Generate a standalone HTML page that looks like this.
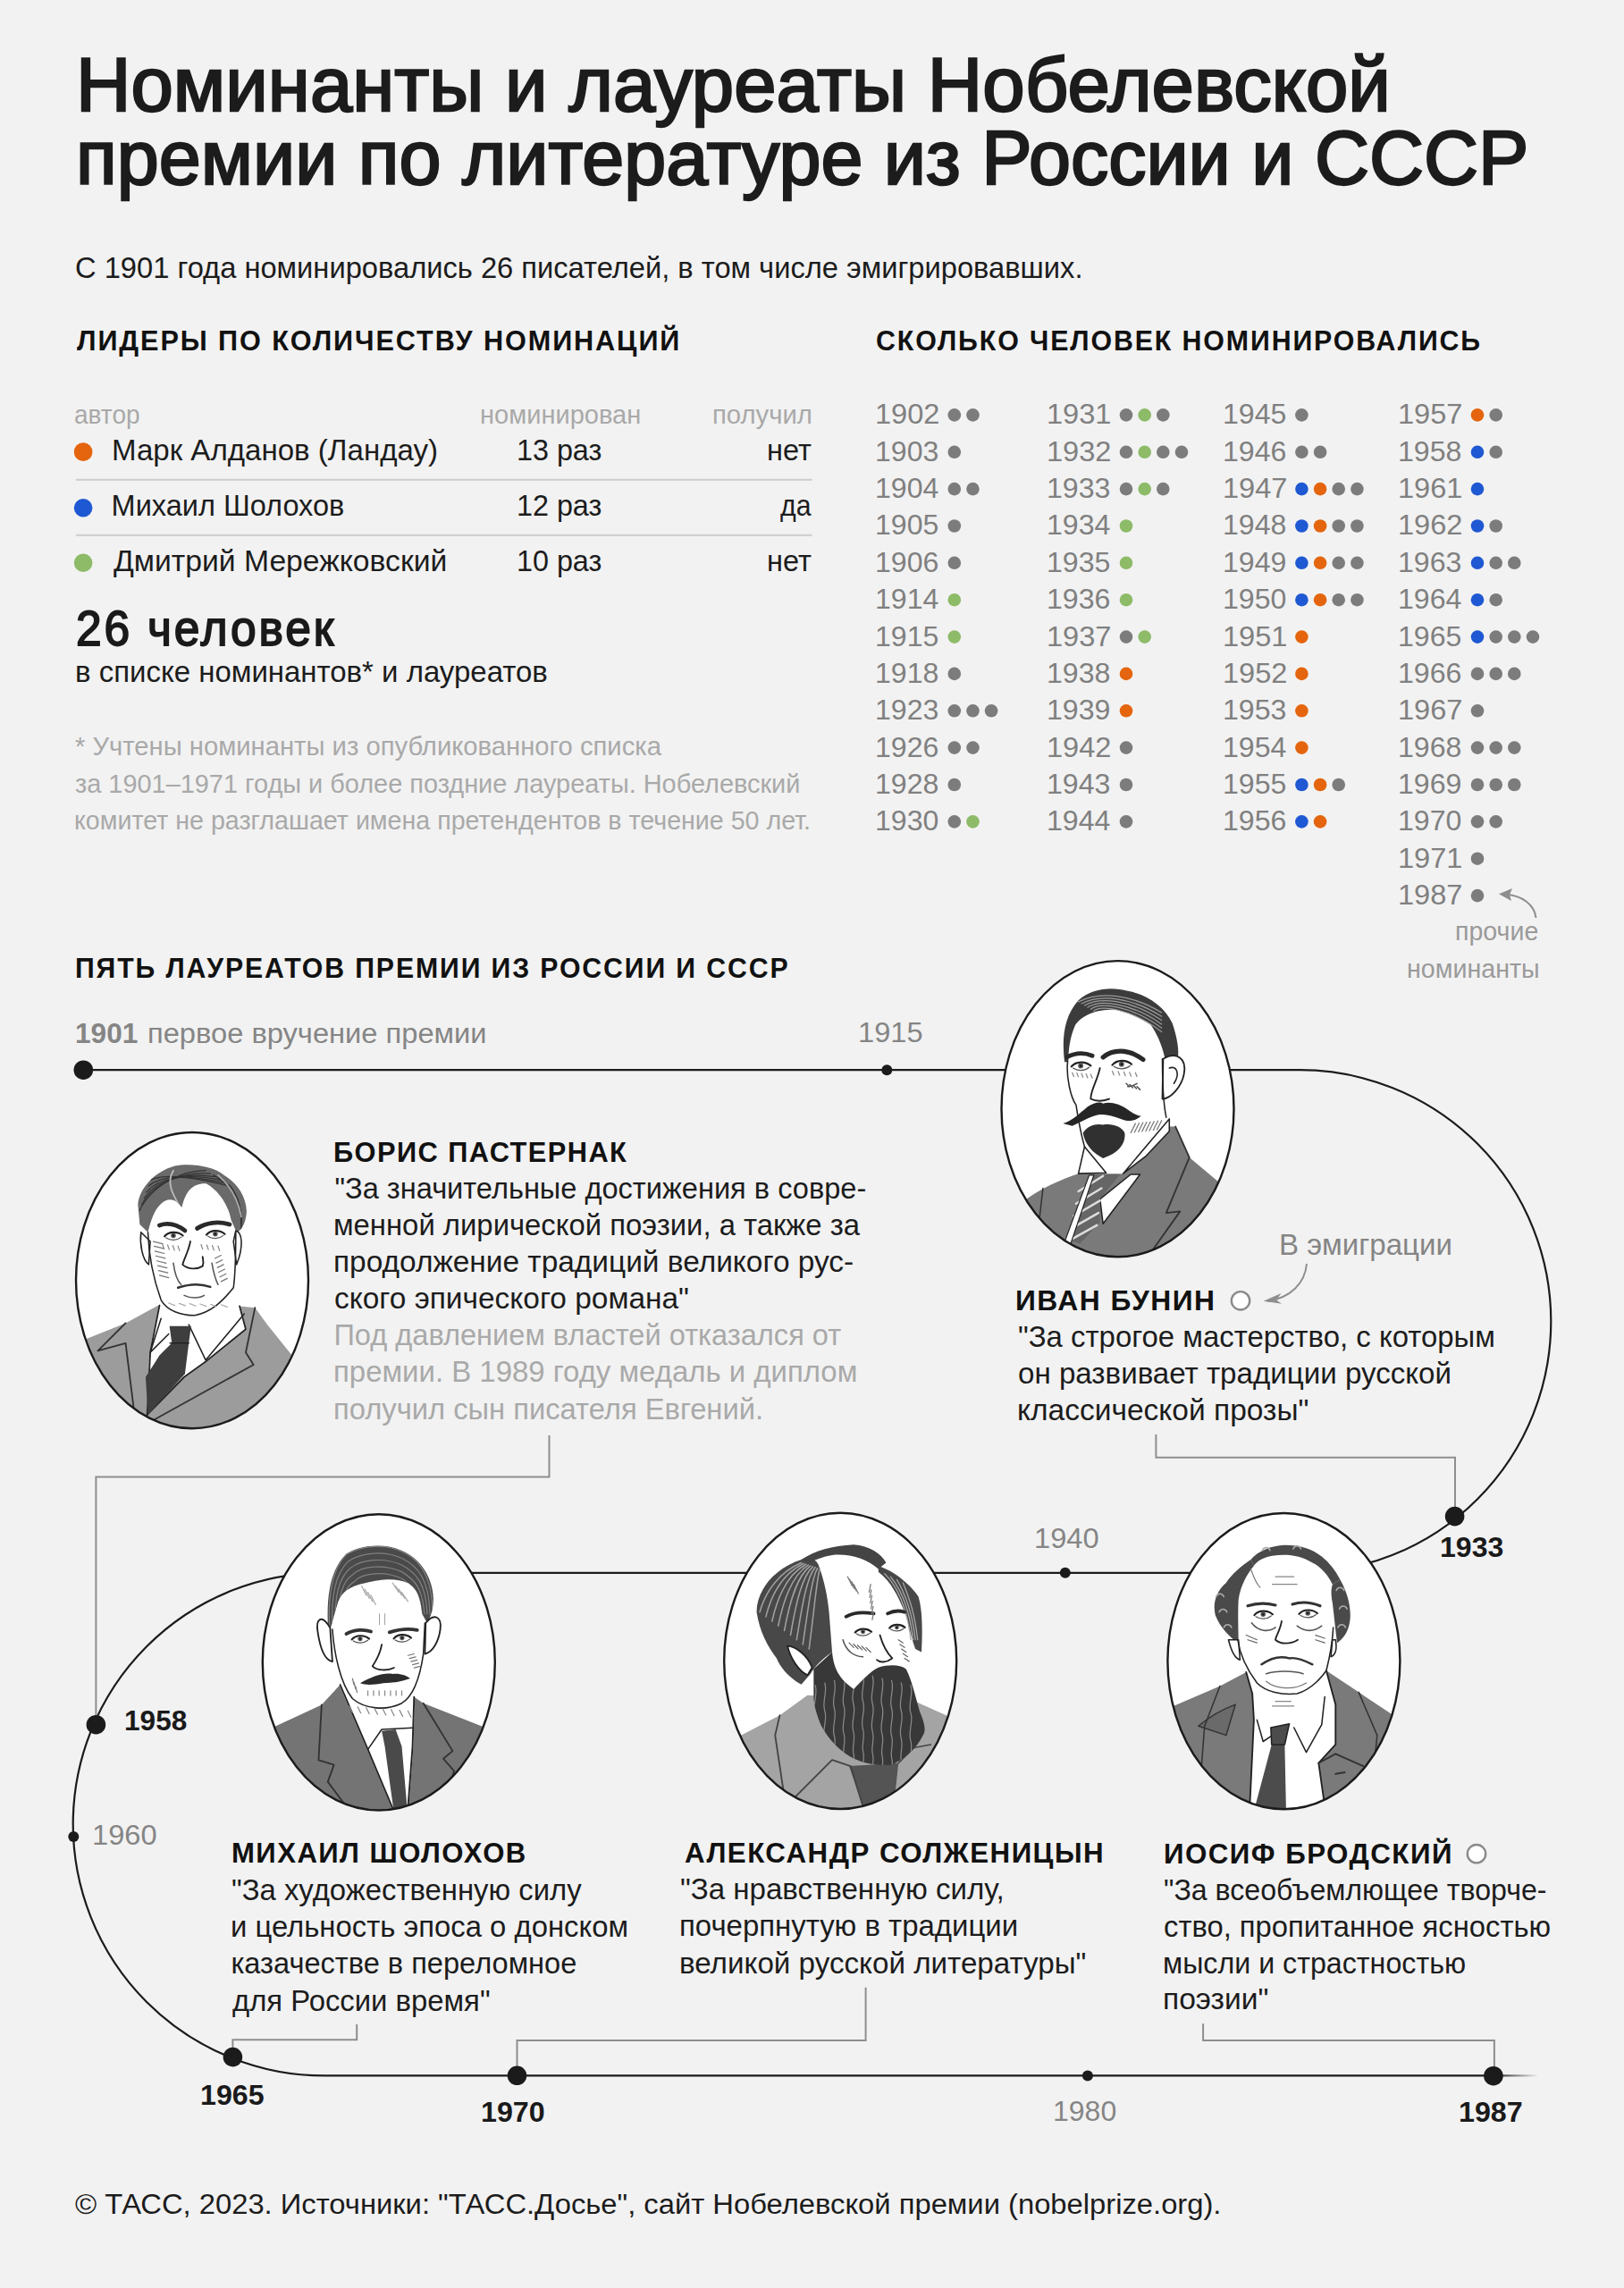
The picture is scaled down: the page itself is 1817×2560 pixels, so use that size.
<!DOCTYPE html>
<html lang="ru"><head><meta charset="utf-8"><title>Номинанты и лауреаты Нобелевской премии по литературе из России и СССР</title>
<style>
html,body{margin:0;padding:0;}
body{width:1817px;height:2560px;background:#f2f2f2;position:relative;overflow:hidden;font-family:"Liberation Sans",sans-serif;}
.t{position:absolute;white-space:pre;line-height:1;transform-origin:0 0;}
svg{position:absolute;left:0;top:0;}
</style></head><body>
<svg width="1817" height="2560" viewBox="0 0 1817 2560">
<path d="M93.3 1197.2 H1454 A281.3 281.3 0 0 1 1454 1759.8 H363 A281.3 281.3 0 0 0 363 2322.4 H1671" fill="none" stroke="#1b1b1b" stroke-width="2.2"/>
<defs><linearGradient id="fd" x1="0" x2="1"><stop offset="0" stop-color="#1b1b1b"/><stop offset="1" stop-color="#1b1b1b" stop-opacity="0"/></linearGradient></defs>
<rect x="1671" y="2321.3" width="50" height="2.2" fill="url(#fd)"/>
<path d="M614.5 1606 L614.5 1652.5 L107.4 1652.5 L107.4 1929.7" fill="none" stroke="#8e8e8e" stroke-width="2"/>
<path d="M1293.4 1605 L1293.4 1630.8 L1628 1630.8 L1628 1696.6" fill="none" stroke="#8e8e8e" stroke-width="2"/>
<path d="M399.2 2265 L399.2 2282.2 L260.4 2282.2 L260.4 2301.6" fill="none" stroke="#8e8e8e" stroke-width="2"/>
<path d="M968.6 2223.8 L968.6 2283 L578.5 2283 L578.5 2322.3" fill="none" stroke="#8e8e8e" stroke-width="2"/>
<path d="M1346.1 2264.2 L1346.1 2283 L1671.9 2283 L1671.9 2322.7" fill="none" stroke="#8e8e8e" stroke-width="2"/>
<circle cx="93.3" cy="1197.2" r="10.8" fill="#1b1b1b"/>
<circle cx="1627.6" cy="1696.6" r="10.8" fill="#1b1b1b"/>
<circle cx="107.4" cy="1929.7" r="10.8" fill="#1b1b1b"/>
<circle cx="260.4" cy="2301.6" r="10.8" fill="#1b1b1b"/>
<circle cx="578.5" cy="2322.3" r="10.8" fill="#1b1b1b"/>
<circle cx="1670.9" cy="2322.7" r="10.8" fill="#1b1b1b"/>
<circle cx="992.3" cy="1197.2" r="6" fill="#1b1b1b"/>
<circle cx="1191.8" cy="1759.8" r="6" fill="#1b1b1b"/>
<circle cx="82.3" cy="2055" r="6" fill="#1b1b1b"/>
<circle cx="1216.9" cy="2322.6" r="6" fill="#1b1b1b"/>
<circle cx="1388" cy="1455.3" r="10.2" fill="#fff" stroke="#8a8a8a" stroke-width="2.4"/>
<circle cx="1652" cy="2074.2" r="10.2" fill="#fff" stroke="#8a8a8a" stroke-width="2.4"/>
<path d="M1462 1414 C1460 1436 1444 1452 1418 1456" fill="none" stroke="#8e8e8e" stroke-width="2"/>
<path d="M1413.5 1455.8 L1433.5 1447 L1428 1454.5 L1434 1458.8 Z" fill="#8e8e8e"/>
<path d="M1718.5 1027 C1717 1012 1703 1002 1684 1000.5" fill="none" stroke="#8e8e8e" stroke-width="2"/>
<path d="M1677 1000.3 L1692 994 L1689 1001 L1691 1008 Z" fill="#8e8e8e"/>
<defs><clipPath id="cp0"><ellipse cx="1250.5" cy="1240.7" rx="130" ry="165.6"/></clipPath><clipPath id="cp1"><ellipse cx="215" cy="1432.6" rx="130" ry="165.6"/></clipPath><clipPath id="cp2"><ellipse cx="423.8" cy="1859.9" rx="130" ry="165.6"/></clipPath><clipPath id="cp3"><ellipse cx="940.2" cy="1858.4" rx="130" ry="165.6"/></clipPath><clipPath id="cp4"><ellipse cx="1436.4" cy="1858.6" rx="130" ry="165.6"/></clipPath></defs><ellipse cx="1250.5" cy="1240.7" rx="130" ry="165.6" fill="#fff"/>
<g clip-path="url(#cp0)"><g transform="translate(1110 1064) scale(0.172414)"><path d="M0 1650 L225 1610 C300 1550 450 1480 560 1445 L850 1445 L1000 1330 L1150 1140 L1190 1140 L1280 1340 L1470 1500 L1624 1560 L1624 2030 L0 2030 Z" fill="#7a7a7a"/><path d="M1190 1140 L1280 1340 L1130 1700 L1220 1690 L1000 2000" fill="none" stroke="#333" stroke-width="10.8" stroke-linecap="round" stroke-linejoin="round"/><path d="M330 1540 L300 1800" fill="none" stroke="#333" stroke-width="9.0" stroke-linecap="round" stroke-linejoin="round"/><path d="M700 1610 L900 1450 L960 1450 L720 1770 Z" fill="#fff" stroke="#222" stroke-width="9.0" stroke-linejoin="round"/><path d="M560 1445 L600 1270 L740 1440 Z" fill="#fff" stroke="#222" stroke-width="9.0" stroke-linejoin="round"/><path d="M850 1445 L1150 1090 L1150 1170 L1000 1330 Z" fill="#fff" stroke="#222" stroke-width="9.0" stroke-linejoin="round"/><path d="M640 1450 L830 1450 L700 1610 L700 1760 L570 1900 L505 1880 L600 1600 Z" fill="#666"/><path d="M560 1560 L720 1460" fill="none" stroke="#ddd" stroke-width="14.4" stroke-linecap="round" stroke-linejoin="round"/><path d="M545 1640 L710 1540" fill="none" stroke="#ddd" stroke-width="14.4" stroke-linecap="round" stroke-linejoin="round"/><path d="M530 1720 L700 1620" fill="none" stroke="#ddd" stroke-width="14.4" stroke-linecap="round" stroke-linejoin="round"/><path d="M515 1800 L690 1700" fill="none" stroke="#ddd" stroke-width="14.4" stroke-linecap="round" stroke-linejoin="round"/><path d="M500 1880 L680 1780" fill="none" stroke="#ddd" stroke-width="14.4" stroke-linecap="round" stroke-linejoin="round"/><path d="M470 1890 L630 1455 L660 1455 L510 1900 Z" fill="#fff" stroke="#222" stroke-width="7.2" stroke-linejoin="round"/><path d="M470 720 C450 560 470 420 560 320 C650 240 780 230 880 260 C1000 280 1120 360 1170 470 C1200 560 1215 640 1205 700 L1120 690 C1100 600 1060 520 1030 480 C960 430 880 400 800 380 C700 380 600 400 540 480 C505 560 495 640 495 720 Z" fill="#3c3c3c"/><path d="M560 330 C700 260 900 280 1100 400" fill="none" stroke="#9a9a9a" stroke-width="7.2" stroke-linecap="round" stroke-linejoin="round"/><path d="M580 342 C700 278 900 298 1100 425" fill="none" stroke="#9a9a9a" stroke-width="7.2" stroke-linecap="round" stroke-linejoin="round"/><path d="M600 354 C700 296 900 316 1100 450" fill="none" stroke="#9a9a9a" stroke-width="7.2" stroke-linecap="round" stroke-linejoin="round"/><path d="M620 366 C700 314 900 334 1100 475" fill="none" stroke="#9a9a9a" stroke-width="7.2" stroke-linecap="round" stroke-linejoin="round"/><path d="M640 378 C700 332 900 352 1100 500" fill="none" stroke="#9a9a9a" stroke-width="7.2" stroke-linecap="round" stroke-linejoin="round"/><path d="M660 390 C700 350 900 370 1100 525" fill="none" stroke="#9a9a9a" stroke-width="7.2" stroke-linecap="round" stroke-linejoin="round"/><path d="M1110 700 C1200 650 1265 700 1245 800 C1230 880 1160 960 1105 960 Z" fill="#fff" stroke="#222" stroke-width="10.8" stroke-linejoin="round"/><path d="M1150 760 C1200 740 1220 800 1180 860" fill="none" stroke="#222" stroke-width="9.0" stroke-linecap="round" stroke-linejoin="round"/><path d="M490 720 C480 820 510 950 545 1000 C560 1100 580 1200 600 1270" fill="none" stroke="#222" stroke-width="9.0" stroke-linecap="round" stroke-linejoin="round"/><path d="M1105 700 C1105 820 1105 960 1130 1080" fill="none" stroke="#222" stroke-width="9.0" stroke-linecap="round" stroke-linejoin="round"/><path d="M485 690 C540 660 600 660 650 680" fill="none" stroke="#2a2a2a" stroke-width="28" stroke-linecap="round" stroke-linejoin="round"/><path d="M720 690 C780 640 880 630 980 705" fill="none" stroke="#2a2a2a" stroke-width="30" stroke-linecap="round" stroke-linejoin="round"/><path d="M520 790 l10 25" fill="none" stroke="#888" stroke-width="7.2" stroke-linecap="round" stroke-linejoin="round"/><path d="M550 792 l10 25" fill="none" stroke="#888" stroke-width="7.2" stroke-linecap="round" stroke-linejoin="round"/><path d="M580 795 l10 25" fill="none" stroke="#888" stroke-width="7.2" stroke-linecap="round" stroke-linejoin="round"/><path d="M610 798 l10 25" fill="none" stroke="#888" stroke-width="7.2" stroke-linecap="round" stroke-linejoin="round"/><path d="M640 800 l10 25" fill="none" stroke="#888" stroke-width="7.2" stroke-linecap="round" stroke-linejoin="round"/><path d="M780 780 l10 25" fill="none" stroke="#888" stroke-width="7.2" stroke-linecap="round" stroke-linejoin="round"/><path d="M818 782 l10 25" fill="none" stroke="#888" stroke-width="7.2" stroke-linecap="round" stroke-linejoin="round"/><path d="M855 785 l10 25" fill="none" stroke="#888" stroke-width="7.2" stroke-linecap="round" stroke-linejoin="round"/><path d="M892 788 l10 25" fill="none" stroke="#888" stroke-width="7.2" stroke-linecap="round" stroke-linejoin="round"/><path d="M930 790 l10 25" fill="none" stroke="#888" stroke-width="7.2" stroke-linecap="round" stroke-linejoin="round"/><path d="M870 860 l20 20" fill="none" stroke="#555" stroke-width="9.0" stroke-linecap="round" stroke-linejoin="round"/><path d="M893 867 l20 20" fill="none" stroke="#555" stroke-width="9.0" stroke-linecap="round" stroke-linejoin="round"/><path d="M917 873 l20 20" fill="none" stroke="#555" stroke-width="9.0" stroke-linecap="round" stroke-linejoin="round"/><path d="M940 880 l20 20" fill="none" stroke="#555" stroke-width="9.0" stroke-linecap="round" stroke-linejoin="round"/><path d="M930 1120 l-30 60" fill="none" stroke="#777" stroke-width="7.2" stroke-linecap="round" stroke-linejoin="round"/><path d="M954 1117 l-30 60" fill="none" stroke="#777" stroke-width="7.2" stroke-linecap="round" stroke-linejoin="round"/><path d="M979 1114 l-30 60" fill="none" stroke="#777" stroke-width="7.2" stroke-linecap="round" stroke-linejoin="round"/><path d="M1003 1111 l-30 60" fill="none" stroke="#777" stroke-width="7.2" stroke-linecap="round" stroke-linejoin="round"/><path d="M1027 1109 l-30 60" fill="none" stroke="#777" stroke-width="7.2" stroke-linecap="round" stroke-linejoin="round"/><path d="M1051 1106 l-30 60" fill="none" stroke="#777" stroke-width="7.2" stroke-linecap="round" stroke-linejoin="round"/><path d="M1076 1103 l-30 60" fill="none" stroke="#777" stroke-width="7.2" stroke-linecap="round" stroke-linejoin="round"/><path d="M1100 1100 l-30 60" fill="none" stroke="#777" stroke-width="7.2" stroke-linecap="round" stroke-linejoin="round"/><path d="M515.0 750.0 C545.0 715.0 605.0 715.0 640.0 745" fill="none" stroke="#222" stroke-width="12.6" stroke-linecap="round" stroke-linejoin="round"/><path d="M525.0 760.0 C555.0 780.0 600.0 780.0 630.0 755.0" fill="none" stroke="#555" stroke-width="7.2" stroke-linecap="round" stroke-linejoin="round"/><circle cx="575" cy="745" r="17.0" fill="#555"/><circle cx="575" cy="745" r="7.0" fill="#111"/><path d="M780.0 740.0 C810.0 705.0 870.0 705.0 905.0 735" fill="none" stroke="#222" stroke-width="12.6" stroke-linecap="round" stroke-linejoin="round"/><path d="M790.0 750.0 C820.0 770.0 865.0 770.0 895.0 745.0" fill="none" stroke="#555" stroke-width="7.2" stroke-linecap="round" stroke-linejoin="round"/><circle cx="840" cy="735" r="17.0" fill="#555"/><circle cx="840" cy="735" r="7.0" fill="#111"/><path d="M700 760 C680 850 640 900 640 960 C680 980 720 975 760 960" fill="none" stroke="#222" stroke-width="10.8" stroke-linecap="round" stroke-linejoin="round"/><path d="M880 880 C910 880 940 860 940 860" fill="none" stroke="#555" stroke-width="9.0" stroke-linecap="round" stroke-linejoin="round"/><path d="M460 1120 C520 1100 560 1060 620 1010 C660 985 700 975 720 990 C760 975 830 990 880 1030 C920 1060 950 1070 968 1070 C930 1105 880 1110 840 1092 C790 1072 740 1062 700 1062 C640 1072 580 1110 520 1135 Z" fill="#262626"/><path d="M590 1180 C620 1130 680 1118 720 1128 C780 1118 840 1140 860 1180 C870 1240 830 1310 720 1345 C650 1310 600 1250 590 1180 Z" fill="#303030"/></g></g>
<ellipse cx="1250.5" cy="1240.7" rx="130" ry="165.6" fill="none" stroke="#1b1b1b" stroke-width="2.4"/>
<ellipse cx="215" cy="1432.6" rx="130" ry="165.6" fill="#fff"/>
<g clip-path="url(#cp1)"><g transform="translate(75 1258) scale(0.172414)"><path d="M0 1450 L130 1390 L380 1290 L600 1170 L620 1180 L1120 1180 L1220 1190 L1300 1300 L1460 1500 L1624 1560 L1624 2030 L0 2030 Z" fill="#9c9c9c"/><path d="M600 1175 L1120 1180 L1160 1330 L900 1540 L760 1640 L520 1885 L540 1480 Z" fill="#fff" stroke="#fff" stroke-width="10"/><path d="M600 1175 L540 1480 L520 1885" fill="none" stroke="#222" stroke-width="10.8" stroke-linecap="round" stroke-linejoin="round"/><path d="M1120 1180 L1160 1330 L900 1540 L760 1640 L520 1885" fill="none" stroke="#222" stroke-width="10.8" stroke-linecap="round" stroke-linejoin="round"/><path d="M610 1260 L540 1480 L660 1360" fill="none" stroke="#222" stroke-width="9.0" stroke-linecap="round" stroke-linejoin="round"/><path d="M1150 1230 L900 1530 L790 1300" fill="none" stroke="#222" stroke-width="9.0" stroke-linecap="round" stroke-linejoin="round"/><path d="M665 1310 L805 1310 L790 1420 L765 1620 L525 1885 L510 1640 L600 1500 L680 1420 Z" fill="#3e3e3e"/><path d="M668 1420 L790 1420" fill="none" stroke="#222" stroke-width="9.0" stroke-linecap="round" stroke-linejoin="round"/><path d="M380 1290 L200 1470 L380 1420 L440 1900" fill="none" stroke="#333" stroke-width="10.8" stroke-linecap="round" stroke-linejoin="round"/><path d="M1220 1190 L1160 1480 L1210 1560 L560 1920" fill="none" stroke="#333" stroke-width="10.8" stroke-linecap="round" stroke-linejoin="round"/><clipPath id="pclip"><path d="M460 520 C470 420 560 310 700 270 C800 250 950 270 1020 330 C1100 380 1160 460 1165 560 C1165 640 1125 700 1100 700 L1065 620 C1045 520 985 430 905 385 C820 380 770 430 745 540 C705 480 655 470 605 520 C565 560 545 620 525 700 L472 650 Z"/></clipPath><path d="M460 520 C470 420 560 310 700 270 C800 250 950 270 1020 330 C1100 380 1160 460 1165 560 C1165 640 1125 700 1100 700 L1065 620 C1045 520 985 430 905 385 C820 380 770 430 745 540 C705 480 655 470 605 520 C565 560 545 620 525 700 L472 650 Z" fill="#6a6a6a"/><g clip-path="url(#pclip)"><path d="M470 560 C560 380 760 300 900 300" fill="none" stroke="#333" stroke-width="7.2" stroke-linecap="round" stroke-linejoin="round"/><path d="M485 520 C570 370 760 305 930 320" fill="none" stroke="#333" stroke-width="7.2" stroke-linecap="round" stroke-linejoin="round"/><path d="M500 480 C580 360 760 310 960 340" fill="none" stroke="#333" stroke-width="7.2" stroke-linecap="round" stroke-linejoin="round"/><path d="M515 440 C590 350 760 315 990 360" fill="none" stroke="#333" stroke-width="7.2" stroke-linecap="round" stroke-linejoin="round"/><path d="M530 400 C600 340 760 320 1020 380" fill="none" stroke="#333" stroke-width="7.2" stroke-linecap="round" stroke-linejoin="round"/><path d="M545 360 C610 330 760 325 1050 400" fill="none" stroke="#333" stroke-width="7.2" stroke-linecap="round" stroke-linejoin="round"/><path d="M950 330 C1050 380 1120 480 1130 600" fill="none" stroke="#333" stroke-width="7.2" stroke-linecap="round" stroke-linejoin="round"/><path d="M975 345 C1065 400 1125 500 1130 620" fill="none" stroke="#333" stroke-width="7.2" stroke-linecap="round" stroke-linejoin="round"/><path d="M1000 360 C1080 420 1130 520 1130 640" fill="none" stroke="#333" stroke-width="7.2" stroke-linecap="round" stroke-linejoin="round"/><path d="M1025 375 C1095 440 1135 540 1130 660" fill="none" stroke="#333" stroke-width="7.2" stroke-linecap="round" stroke-linejoin="round"/><path d="M1050 390 C1110 460 1140 560 1130 680" fill="none" stroke="#333" stroke-width="7.2" stroke-linecap="round" stroke-linejoin="round"/><path d="M690 300 C640 380 690 460 730 530" fill="none" stroke="#bbb" stroke-width="10.8" stroke-linecap="round" stroke-linejoin="round"/><path d="M980 330 C1060 400 1110 480 1130 600" fill="none" stroke="#aaa" stroke-width="10.8" stroke-linecap="round" stroke-linejoin="round"/></g><path d="M480 700 C470 780 490 880 530 910 L540 760 Z" fill="#fff" stroke="#222" stroke-width="9.0" stroke-linejoin="round"/><path d="M1095 690 C1140 700 1145 800 1100 910 L1080 760 Z" fill="#fff" stroke="#222" stroke-width="9.0" stroke-linejoin="round"/><path d="M525 700 C530 850 560 1000 610 1140 C650 1210 740 1240 830 1240 C930 1220 1000 1160 1080 1060 C1095 950 1095 800 1095 700" fill="none" stroke="#222" stroke-width="9.0" stroke-linecap="round" stroke-linejoin="round"/><path d="M600 655 C660 635 720 655 765 690" fill="none" stroke="#2a2a2a" stroke-width="28" stroke-linecap="round" stroke-linejoin="round"/><path d="M845 675 C900 640 980 625 1055 650" fill="none" stroke="#2a2a2a" stroke-width="28" stroke-linecap="round" stroke-linejoin="round"/><path d="M560 760 l60 15" fill="none" stroke="#777" stroke-width="7.2" stroke-linecap="round" stroke-linejoin="round"/><path d="M566 791 l60 15" fill="none" stroke="#777" stroke-width="7.2" stroke-linecap="round" stroke-linejoin="round"/><path d="M571 823 l60 15" fill="none" stroke="#777" stroke-width="7.2" stroke-linecap="round" stroke-linejoin="round"/><path d="M577 854 l60 15" fill="none" stroke="#777" stroke-width="7.2" stroke-linecap="round" stroke-linejoin="round"/><path d="M583 886 l60 15" fill="none" stroke="#777" stroke-width="7.2" stroke-linecap="round" stroke-linejoin="round"/><path d="M589 917 l60 15" fill="none" stroke="#777" stroke-width="7.2" stroke-linecap="round" stroke-linejoin="round"/><path d="M594 949 l60 15" fill="none" stroke="#777" stroke-width="7.2" stroke-linecap="round" stroke-linejoin="round"/><path d="M600 980 l60 15" fill="none" stroke="#777" stroke-width="7.2" stroke-linecap="round" stroke-linejoin="round"/><path d="M620 780 l10 30" fill="none" stroke="#888" stroke-width="7.2" stroke-linecap="round" stroke-linejoin="round"/><path d="M653 783 l10 30" fill="none" stroke="#888" stroke-width="7.2" stroke-linecap="round" stroke-linejoin="round"/><path d="M687 787 l10 30" fill="none" stroke="#888" stroke-width="7.2" stroke-linecap="round" stroke-linejoin="round"/><path d="M720 790 l10 30" fill="none" stroke="#888" stroke-width="7.2" stroke-linecap="round" stroke-linejoin="round"/><path d="M870 780 l10 30" fill="none" stroke="#888" stroke-width="7.2" stroke-linecap="round" stroke-linejoin="round"/><path d="M907 783 l10 30" fill="none" stroke="#888" stroke-width="7.2" stroke-linecap="round" stroke-linejoin="round"/><path d="M943 787 l10 30" fill="none" stroke="#888" stroke-width="7.2" stroke-linecap="round" stroke-linejoin="round"/><path d="M980 790 l10 30" fill="none" stroke="#888" stroke-width="7.2" stroke-linecap="round" stroke-linejoin="round"/><path d="M1000 850 l-40 20" fill="none" stroke="#777" stroke-width="7.2" stroke-linecap="round" stroke-linejoin="round"/><path d="M1008 880 l-40 20" fill="none" stroke="#777" stroke-width="7.2" stroke-linecap="round" stroke-linejoin="round"/><path d="M1016 910 l-40 20" fill="none" stroke="#777" stroke-width="7.2" stroke-linecap="round" stroke-linejoin="round"/><path d="M1024 940 l-40 20" fill="none" stroke="#777" stroke-width="7.2" stroke-linecap="round" stroke-linejoin="round"/><path d="M1032 970 l-40 20" fill="none" stroke="#777" stroke-width="7.2" stroke-linecap="round" stroke-linejoin="round"/><path d="M1040 1000 l-40 20" fill="none" stroke="#777" stroke-width="7.2" stroke-linecap="round" stroke-linejoin="round"/><path d="M690 900 C700 980 720 1020 740 1040" fill="none" stroke="#555" stroke-width="9.0" stroke-linecap="round" stroke-linejoin="round"/><path d="M940 900 C950 960 960 1000 980 1040" fill="none" stroke="#555" stroke-width="9.0" stroke-linecap="round" stroke-linejoin="round"/><path d="M660 1160 l40 15" fill="none" stroke="#aaa" stroke-width="7.2" stroke-linecap="round" stroke-linejoin="round"/><path d="M728 1162 l40 15" fill="none" stroke="#aaa" stroke-width="7.2" stroke-linecap="round" stroke-linejoin="round"/><path d="M796 1164 l40 15" fill="none" stroke="#aaa" stroke-width="7.2" stroke-linecap="round" stroke-linejoin="round"/><path d="M864 1166 l40 15" fill="none" stroke="#aaa" stroke-width="7.2" stroke-linecap="round" stroke-linejoin="round"/><path d="M932 1168 l40 15" fill="none" stroke="#aaa" stroke-width="7.2" stroke-linecap="round" stroke-linejoin="round"/><path d="M1000 1170 l40 15" fill="none" stroke="#aaa" stroke-width="7.2" stroke-linecap="round" stroke-linejoin="round"/><path d="M633.0 726.75 C661.5 693.5 718.5 693.5 751.75 722" fill="none" stroke="#222" stroke-width="12.6" stroke-linecap="round" stroke-linejoin="round"/><path d="M642.5 736.25 C671.0 755.25 713.75 755.25 742.25 731.5" fill="none" stroke="#555" stroke-width="7.2" stroke-linecap="round" stroke-linejoin="round"/><circle cx="690" cy="722" r="16.15" fill="#555"/><circle cx="690" cy="722" r="6.6499999999999995" fill="#111"/><path d="M905.0 716.75 C933.5 683.5 990.5 683.5 1023.75 712" fill="none" stroke="#222" stroke-width="12.6" stroke-linecap="round" stroke-linejoin="round"/><path d="M914.5 726.25 C943.0 745.25 985.75 745.25 1014.25 721.5" fill="none" stroke="#555" stroke-width="7.2" stroke-linecap="round" stroke-linejoin="round"/><circle cx="962" cy="712" r="16.15" fill="#555"/><circle cx="962" cy="712" r="6.6499999999999995" fill="#111"/><path d="M800 760 C790 820 760 870 750 910 C780 940 840 945 880 920 C890 890 880 870 880 860" fill="none" stroke="#222" stroke-width="10.8" stroke-linecap="round" stroke-linejoin="round"/><path d="M720 1060 C780 1040 860 1030 930 1055" fill="none" stroke="#333" stroke-width="14.4" stroke-linecap="round" stroke-linejoin="round"/><path d="M760 1110 C800 1130 860 1130 890 1110" fill="none" stroke="#555" stroke-width="9.0" stroke-linecap="round" stroke-linejoin="round"/></g></g>
<ellipse cx="215" cy="1432.6" rx="130" ry="165.6" fill="none" stroke="#1b1b1b" stroke-width="2.4"/>
<ellipse cx="423.8" cy="1859.9" rx="130" ry="165.6" fill="#fff"/>
<g clip-path="url(#cp2)"><g transform="translate(284 1685) scale(0.172414)"><path d="M0 1460 L140 1430 L440 1290 L560 1160 L1040 1240 L1100 1280 L1480 1430 L1624 1480 L1624 2030 L0 2030 Z" fill="#747474"/><path d="M560 1160 L1040 1240 L1030 1560 L1000 1960 L900 1960 L740 1580 Z" fill="#fff" stroke="#fff" stroke-width="10"/><path d="M560 1160 L740 1580 L900 1960" fill="none" stroke="#222" stroke-width="10.8" stroke-linecap="round" stroke-linejoin="round"/><path d="M1040 1240 L1030 1560 L1000 1960" fill="none" stroke="#222" stroke-width="10.8" stroke-linecap="round" stroke-linejoin="round"/><path d="M830 1460 L920 1450 L960 1560 L995 1960 L905 1960 L850 1560 Z" fill="#4a4a4a"/><path d="M740 1580 L830 1450 L1030 1440" fill="none" stroke="#222" stroke-width="9.0" stroke-linecap="round" stroke-linejoin="round"/><path d="M440 1290 L420 1650 L520 1680 L480 1790 L600 1950" fill="none" stroke="#333" stroke-width="10.8" stroke-linecap="round" stroke-linejoin="round"/><path d="M1100 1280 L1290 1590 L1230 1640 L1300 1720 L1240 1900" fill="none" stroke="#333" stroke-width="10.8" stroke-linecap="round" stroke-linejoin="round"/><clipPath id="shclip"><path d="M482 800 C470 600 490 420 600 310 C700 250 850 240 960 290 C1080 340 1160 460 1165 600 C1165 680 1145 720 1125 760 L1092 700 C1082 600 1062 540 1002 500 C922 470 852 470 722 500 C622 520 562 560 542 640 C522 700 505 780 495 800 Z"/></clipPath><path d="M482 800 C470 600 490 420 600 310 C700 250 850 240 960 290 C1080 340 1160 460 1165 600 C1165 680 1145 720 1125 760 L1092 700 C1082 600 1062 540 1002 500 C922 470 852 470 722 500 C622 520 562 560 542 640 C522 700 505 780 495 800 Z" fill="#4a4a4a"/><g clip-path="url(#shclip)"><path d="M492 800 C480 600 500 420 600 315 C700 255 850 245 960 295 C1080 345 1160 460 1160 700" fill="none" stroke="#808080" stroke-width="7.2" stroke-linecap="round" stroke-linejoin="round"/><path d="M510 800 C502 600 522 446 613 359 C700 299 850 289 960 339 C1067 389 1138 482 1142 700" fill="none" stroke="#808080" stroke-width="7.2" stroke-linecap="round" stroke-linejoin="round"/><path d="M527 800 C524 600 544 473 626 403 C700 343 850 333 960 383 C1054 433 1116 504 1125 700" fill="none" stroke="#808080" stroke-width="7.2" stroke-linecap="round" stroke-linejoin="round"/><path d="M545 800 C546 600 566 499 640 447 C700 387 850 377 960 427 C1040 477 1094 526 1107 700" fill="none" stroke="#808080" stroke-width="7.2" stroke-linecap="round" stroke-linejoin="round"/><path d="M562 800 C568 600 588 526 653 491 C700 431 850 421 960 471 C1027 521 1072 548 1090 700" fill="none" stroke="#808080" stroke-width="7.2" stroke-linecap="round" stroke-linejoin="round"/></g><path d="M495 790 C440 700 400 730 415 820 C430 920 460 1000 510 1010 Z" fill="#fff" stroke="#222" stroke-width="10.8" stroke-linejoin="round"/><path d="M1115 760 C1170 690 1220 720 1210 800 C1200 880 1160 950 1110 960 Z" fill="#fff" stroke="#222" stroke-width="10.8" stroke-linejoin="round"/><path d="M510 800 C520 950 560 1150 640 1250 C720 1320 860 1330 960 1280 C1040 1230 1080 1100 1100 960 L1110 760" fill="none" stroke="#222" stroke-width="9.0" stroke-linecap="round" stroke-linejoin="round"/><path d="M600 830 C650 800 720 800 760 815" fill="none" stroke="#333" stroke-width="22" stroke-linecap="round" stroke-linejoin="round"/><path d="M880 820 C940 800 1010 795 1060 805" fill="none" stroke="#333" stroke-width="22" stroke-linecap="round" stroke-linejoin="round"/><path d="M700 520 l30 60" fill="none" stroke="#aaa" stroke-width="7.2" stroke-linecap="round" stroke-linejoin="round"/><path d="M720 540 l30 60" fill="none" stroke="#aaa" stroke-width="7.2" stroke-linecap="round" stroke-linejoin="round"/><path d="M740 560 l30 60" fill="none" stroke="#aaa" stroke-width="7.2" stroke-linecap="round" stroke-linejoin="round"/><path d="M760 580 l30 60" fill="none" stroke="#aaa" stroke-width="7.2" stroke-linecap="round" stroke-linejoin="round"/><path d="M900 500 l40 60" fill="none" stroke="#aaa" stroke-width="7.2" stroke-linecap="round" stroke-linejoin="round"/><path d="M920 520 l40 60" fill="none" stroke="#aaa" stroke-width="7.2" stroke-linecap="round" stroke-linejoin="round"/><path d="M940 540 l40 60" fill="none" stroke="#aaa" stroke-width="7.2" stroke-linecap="round" stroke-linejoin="round"/><path d="M960 560 l40 60" fill="none" stroke="#aaa" stroke-width="7.2" stroke-linecap="round" stroke-linejoin="round"/><path d="M815 700 l0 70" fill="none" stroke="#999" stroke-width="5.4" stroke-linecap="round" stroke-linejoin="round"/><path d="M850 700 l0 70" fill="none" stroke="#999" stroke-width="5.4" stroke-linecap="round" stroke-linejoin="round"/><path d="M1040 960 l-40 10" fill="none" stroke="#777" stroke-width="7.2" stroke-linecap="round" stroke-linejoin="round"/><path d="M1050 980 l-40 10" fill="none" stroke="#777" stroke-width="7.2" stroke-linecap="round" stroke-linejoin="round"/><path d="M1060 1000 l-40 10" fill="none" stroke="#777" stroke-width="7.2" stroke-linecap="round" stroke-linejoin="round"/><path d="M1070 1020 l-40 10" fill="none" stroke="#777" stroke-width="7.2" stroke-linecap="round" stroke-linejoin="round"/><path d="M1080 1040 l-40 10" fill="none" stroke="#777" stroke-width="7.2" stroke-linecap="round" stroke-linejoin="round"/><path d="M640 1120 l10 40" fill="none" stroke="#777" stroke-width="7.2" stroke-linecap="round" stroke-linejoin="round"/><path d="M650 1145 l10 40" fill="none" stroke="#777" stroke-width="7.2" stroke-linecap="round" stroke-linejoin="round"/><path d="M660 1170 l10 40" fill="none" stroke="#777" stroke-width="7.2" stroke-linecap="round" stroke-linejoin="round"/><path d="M740 1200 l0 30" fill="none" stroke="#888" stroke-width="7.2" stroke-linecap="round" stroke-linejoin="round"/><path d="M777 1200 l0 30" fill="none" stroke="#888" stroke-width="7.2" stroke-linecap="round" stroke-linejoin="round"/><path d="M813 1200 l0 30" fill="none" stroke="#888" stroke-width="7.2" stroke-linecap="round" stroke-linejoin="round"/><path d="M850 1200 l0 30" fill="none" stroke="#888" stroke-width="7.2" stroke-linecap="round" stroke-linejoin="round"/><path d="M887 1200 l0 30" fill="none" stroke="#888" stroke-width="7.2" stroke-linecap="round" stroke-linejoin="round"/><path d="M923 1200 l0 30" fill="none" stroke="#888" stroke-width="7.2" stroke-linecap="round" stroke-linejoin="round"/><path d="M960 1200 l0 30" fill="none" stroke="#888" stroke-width="7.2" stroke-linecap="round" stroke-linejoin="round"/><path d="M620 1300 l20 40" fill="none" stroke="#888" stroke-width="7.2" stroke-linecap="round" stroke-linejoin="round"/><path d="M674 1304 l20 40" fill="none" stroke="#888" stroke-width="7.2" stroke-linecap="round" stroke-linejoin="round"/><path d="M729 1309 l20 40" fill="none" stroke="#888" stroke-width="7.2" stroke-linecap="round" stroke-linejoin="round"/><path d="M783 1313 l20 40" fill="none" stroke="#888" stroke-width="7.2" stroke-linecap="round" stroke-linejoin="round"/><path d="M837 1317 l20 40" fill="none" stroke="#888" stroke-width="7.2" stroke-linecap="round" stroke-linejoin="round"/><path d="M891 1321 l20 40" fill="none" stroke="#888" stroke-width="7.2" stroke-linecap="round" stroke-linejoin="round"/><path d="M946 1326 l20 40" fill="none" stroke="#888" stroke-width="7.2" stroke-linecap="round" stroke-linejoin="round"/><path d="M1000 1330 l20 40" fill="none" stroke="#888" stroke-width="7.2" stroke-linecap="round" stroke-linejoin="round"/><path d="M636.0 866.5 C663.0 835.0 717.0 835.0 748.5 862" fill="none" stroke="#222" stroke-width="12.6" stroke-linecap="round" stroke-linejoin="round"/><path d="M645.0 875.5 C672.0 893.5 712.5 893.5 739.5 871.0" fill="none" stroke="#555" stroke-width="7.2" stroke-linecap="round" stroke-linejoin="round"/><circle cx="690" cy="862" r="15.3" fill="#555"/><circle cx="690" cy="862" r="6.3" fill="#111"/><path d="M908.0 860.5 C935.0 829.0 989.0 829.0 1020.5 856" fill="none" stroke="#222" stroke-width="12.6" stroke-linecap="round" stroke-linejoin="round"/><path d="M917.0 869.5 C944.0 887.5 984.5 887.5 1011.5 865.0" fill="none" stroke="#555" stroke-width="7.2" stroke-linecap="round" stroke-linejoin="round"/><circle cx="962" cy="856" r="15.3" fill="#555"/><circle cx="962" cy="856" r="6.3" fill="#111"/><path d="M830 900 C820 960 790 1010 770 1040 C800 1070 870 1070 910 1050" fill="none" stroke="#222" stroke-width="10.8" stroke-linecap="round" stroke-linejoin="round"/><path d="M690 1150 C760 1110 840 1080 900 1090 C950 1085 990 1100 1015 1120 C960 1140 900 1150 840 1150 C780 1160 730 1165 690 1150 Z" fill="#2c2c2c"/></g></g>
<ellipse cx="423.8" cy="1859.9" rx="130" ry="165.6" fill="none" stroke="#1b1b1b" stroke-width="2.4"/>
<ellipse cx="940.2" cy="1858.4" rx="130" ry="165.6" fill="#fff"/>
<g clip-path="url(#cp3)"><g transform="translate(800 1683) scale(0.172414)"><path d="M0 1540 L170 1500 L420 1370 L600 1240 L1300 1280 L1500 1370 L1624 1400 L1624 2030 L0 2030 Z" fill="#a4a4a4"/><path d="M870 1700 L1190 1680 L1160 1960 L960 1960 Z" fill="#545454"/><path d="M420 1370 L390 1500 L450 1900" fill="none" stroke="#444" stroke-width="10.8" stroke-linecap="round" stroke-linejoin="round"/><path d="M520 1900 L760 1660 L880 1700 L960 1960" fill="none" stroke="#444" stroke-width="10.8" stroke-linecap="round" stroke-linejoin="round"/><path d="M1190 1680 L1290 1580 L1400 1560" fill="none" stroke="#444" stroke-width="9.0" stroke-linecap="round" stroke-linejoin="round"/><path d="M270 700 C270 560 380 420 560 360 C610 345 650 350 670 390 C700 470 725 560 740 700 L760 960 C700 1000 650 1050 620 1100 L560 1170 C470 1120 420 1050 400 1000 C340 920 290 830 270 700 Z" fill="#484848"/><path d="M290 700 C330 560 420 440 560 380" fill="none" stroke="#a0a0a0" stroke-width="9.0" stroke-linecap="round" stroke-linejoin="round"/><path d="M330 730 C370 570 450 445 575 385" fill="none" stroke="#a0a0a0" stroke-width="9.0" stroke-linecap="round" stroke-linejoin="round"/><path d="M370 760 C410 580 480 450 590 390" fill="none" stroke="#a0a0a0" stroke-width="9.0" stroke-linecap="round" stroke-linejoin="round"/><path d="M410 790 C450 590 510 455 605 395" fill="none" stroke="#a0a0a0" stroke-width="9.0" stroke-linecap="round" stroke-linejoin="round"/><path d="M450 820 C490 600 540 460 620 400" fill="none" stroke="#a0a0a0" stroke-width="9.0" stroke-linecap="round" stroke-linejoin="round"/><path d="M490 850 C530 610 570 465 635 405" fill="none" stroke="#a0a0a0" stroke-width="9.0" stroke-linecap="round" stroke-linejoin="round"/><path d="M530 880 C570 620 600 470 650 410" fill="none" stroke="#a0a0a0" stroke-width="9.0" stroke-linecap="round" stroke-linejoin="round"/><path d="M570 910 C610 630 630 475 665 415" fill="none" stroke="#a0a0a0" stroke-width="9.0" stroke-linecap="round" stroke-linejoin="round"/><path d="M610 940 C650 640 660 480 680 420" fill="none" stroke="#a0a0a0" stroke-width="9.0" stroke-linecap="round" stroke-linejoin="round"/><path d="M560 360 C650 300 760 270 900 262 C1000 270 1080 320 1110 380 L1060 420 C980 350 870 320 760 330 C700 340 650 360 610 380 Z" fill="#444"/><path d="M1060 400 C1150 430 1250 500 1320 600 C1350 700 1345 850 1340 960 L1300 940 C1270 860 1255 760 1230 700 C1190 600 1140 500 1060 440 Z" fill="#484848"/><path d="M1100 450 C1200 550 1250 700 1270 880" fill="none" stroke="#aaa" stroke-width="7.2" stroke-linecap="round" stroke-linejoin="round"/><path d="M1140 470 C1220 570 1265 700 1285 880" fill="none" stroke="#aaa" stroke-width="7.2" stroke-linecap="round" stroke-linejoin="round"/><path d="M1180 490 C1240 590 1280 700 1300 880" fill="none" stroke="#aaa" stroke-width="7.2" stroke-linecap="round" stroke-linejoin="round"/><path d="M1220 510 C1260 610 1295 700 1315 880" fill="none" stroke="#aaa" stroke-width="7.2" stroke-linecap="round" stroke-linejoin="round"/><path d="M470 920 C520 920 600 980 630 1060 L600 1110 C540 1080 490 1000 470 920 Z" fill="#fff" stroke="#222" stroke-width="10.8" stroke-linejoin="round"/><clipPath id="bclip"><path d="M640 1070 L760 960 C770 1060 800 1130 900 1200 C960 1140 1000 1090 1060 1060 C1130 1040 1200 1040 1240 1070 C1280 1150 1300 1250 1330 1350 C1360 1420 1370 1470 1350 1500 C1310 1580 1250 1640 1150 1690 C1050 1700 950 1680 880 1640 C800 1590 740 1530 690 1440 C660 1370 640 1300 640 1250 Z"/></clipPath><path d="M640 1070 L760 960 C770 1060 800 1130 900 1200 C960 1140 1000 1090 1060 1060 C1130 1040 1200 1040 1240 1070 C1280 1150 1300 1250 1330 1350 C1360 1420 1370 1470 1350 1500 C1310 1580 1250 1640 1150 1690 C1050 1700 950 1680 880 1640 C800 1590 740 1530 690 1440 C660 1370 640 1300 640 1250 Z" fill="#383838"/><g clip-path="url(#bclip)"><path d="M650 1175 c20 60 -20 120 0 180 c20 60 -20 120 0 180 c15 50 -10 100 0 140 c15 50 -10 100 0 140" fill="none" stroke="#8a8a8a" stroke-width="7.2" stroke-linecap="round" stroke-linejoin="round"/><path d="M712 1160 c20 60 -20 120 0 180 c20 60 -20 120 0 180 c15 50 -10 100 0 140 c15 50 -10 100 0 140" fill="none" stroke="#8a8a8a" stroke-width="7.2" stroke-linecap="round" stroke-linejoin="round"/><path d="M774 1145 c20 60 -20 120 0 180 c20 60 -20 120 0 180 c15 50 -10 100 0 140 c15 50 -10 100 0 140" fill="none" stroke="#8a8a8a" stroke-width="7.2" stroke-linecap="round" stroke-linejoin="round"/><path d="M836 1130 c20 60 -20 120 0 180 c20 60 -20 120 0 180 c15 50 -10 100 0 140 c15 50 -10 100 0 140" fill="none" stroke="#8a8a8a" stroke-width="7.2" stroke-linecap="round" stroke-linejoin="round"/><path d="M898 1115 c20 60 -20 120 0 180 c20 60 -20 120 0 180 c15 50 -10 100 0 140 c15 50 -10 100 0 140" fill="none" stroke="#8a8a8a" stroke-width="7.2" stroke-linecap="round" stroke-linejoin="round"/><path d="M960 1100 c20 60 -20 120 0 180 c20 60 -20 120 0 180 c15 50 -10 100 0 140 c15 50 -10 100 0 140" fill="none" stroke="#8a8a8a" stroke-width="7.2" stroke-linecap="round" stroke-linejoin="round"/><path d="M1022 1115 c20 60 -20 120 0 180 c20 60 -20 120 0 180 c15 50 -10 100 0 140 c15 50 -10 100 0 140" fill="none" stroke="#8a8a8a" stroke-width="7.2" stroke-linecap="round" stroke-linejoin="round"/><path d="M1084 1130 c20 60 -20 120 0 180 c20 60 -20 120 0 180 c15 50 -10 100 0 140 c15 50 -10 100 0 140" fill="none" stroke="#8a8a8a" stroke-width="7.2" stroke-linecap="round" stroke-linejoin="round"/><path d="M1146 1145 c20 60 -20 120 0 180 c20 60 -20 120 0 180 c15 50 -10 100 0 140 c15 50 -10 100 0 140" fill="none" stroke="#8a8a8a" stroke-width="7.2" stroke-linecap="round" stroke-linejoin="round"/><path d="M1208 1160 c20 60 -20 120 0 180 c20 60 -20 120 0 180 c15 50 -10 100 0 140 c15 50 -10 100 0 140" fill="none" stroke="#8a8a8a" stroke-width="7.2" stroke-linecap="round" stroke-linejoin="round"/><path d="M1270 1175 c20 60 -20 120 0 180 c20 60 -20 120 0 180 c15 50 -10 100 0 140 c15 50 -10 100 0 140" fill="none" stroke="#8a8a8a" stroke-width="7.2" stroke-linecap="round" stroke-linejoin="round"/></g><path d="M850 730 C900 700 970 700 1030 710" fill="none" stroke="#2a2a2a" stroke-width="22" stroke-linecap="round" stroke-linejoin="round"/><path d="M1120 710 C1160 690 1200 690 1230 700" fill="none" stroke="#2a2a2a" stroke-width="22" stroke-linecap="round" stroke-linejoin="round"/><path d="M860 470 l30 60" fill="none" stroke="#777" stroke-width="7.2" stroke-linecap="round" stroke-linejoin="round"/><path d="M873 487 l30 60" fill="none" stroke="#777" stroke-width="7.2" stroke-linecap="round" stroke-linejoin="round"/><path d="M887 503 l30 60" fill="none" stroke="#777" stroke-width="7.2" stroke-linecap="round" stroke-linejoin="round"/><path d="M900 520 l30 60" fill="none" stroke="#777" stroke-width="7.2" stroke-linecap="round" stroke-linejoin="round"/><path d="M1010 520 l-10 50" fill="none" stroke="#777" stroke-width="7.2" stroke-linecap="round" stroke-linejoin="round"/><path d="M1014 556 l-10 50" fill="none" stroke="#777" stroke-width="7.2" stroke-linecap="round" stroke-linejoin="round"/><path d="M1018 592 l-10 50" fill="none" stroke="#777" stroke-width="7.2" stroke-linecap="round" stroke-linejoin="round"/><path d="M1022 628 l-10 50" fill="none" stroke="#777" stroke-width="7.2" stroke-linecap="round" stroke-linejoin="round"/><path d="M1026 664 l-10 50" fill="none" stroke="#777" stroke-width="7.2" stroke-linecap="round" stroke-linejoin="round"/><path d="M1030 700 l-10 50" fill="none" stroke="#777" stroke-width="7.2" stroke-linecap="round" stroke-linejoin="round"/><path d="M870 900 l30 30" fill="none" stroke="#666" stroke-width="7.2" stroke-linecap="round" stroke-linejoin="round"/><path d="M898 908 l30 30" fill="none" stroke="#666" stroke-width="7.2" stroke-linecap="round" stroke-linejoin="round"/><path d="M925 915 l30 30" fill="none" stroke="#666" stroke-width="7.2" stroke-linecap="round" stroke-linejoin="round"/><path d="M952 922 l30 30" fill="none" stroke="#666" stroke-width="7.2" stroke-linecap="round" stroke-linejoin="round"/><path d="M980 930 l30 30" fill="none" stroke="#666" stroke-width="7.2" stroke-linecap="round" stroke-linejoin="round"/><path d="M1190 880 l30 20" fill="none" stroke="#666" stroke-width="7.2" stroke-linecap="round" stroke-linejoin="round"/><path d="M1200 910 l30 20" fill="none" stroke="#666" stroke-width="7.2" stroke-linecap="round" stroke-linejoin="round"/><path d="M1210 940 l30 20" fill="none" stroke="#666" stroke-width="7.2" stroke-linecap="round" stroke-linejoin="round"/><path d="M1220 970 l30 20" fill="none" stroke="#666" stroke-width="7.2" stroke-linecap="round" stroke-linejoin="round"/><path d="M1230 1000 l30 20" fill="none" stroke="#666" stroke-width="7.2" stroke-linecap="round" stroke-linejoin="round"/><path d="M909.0 832.25 C934.5 802.5 985.5 802.5 1015.25 828" fill="none" stroke="#222" stroke-width="12.6" stroke-linecap="round" stroke-linejoin="round"/><path d="M917.5 840.75 C943.0 857.75 981.25 857.75 1006.75 836.5" fill="none" stroke="#555" stroke-width="7.2" stroke-linecap="round" stroke-linejoin="round"/><circle cx="960" cy="828" r="14.45" fill="#555"/><circle cx="960" cy="828" r="5.95" fill="#111"/><path d="M1132.0 804.0 C1156.0 776.0 1204.0 776.0 1232.0 800" fill="none" stroke="#222" stroke-width="12.6" stroke-linecap="round" stroke-linejoin="round"/><path d="M1140.0 812.0 C1164.0 828.0 1200.0 828.0 1224.0 808.0" fill="none" stroke="#555" stroke-width="7.2" stroke-linecap="round" stroke-linejoin="round"/><circle cx="1180" cy="800" r="13.600000000000001" fill="#555"/><circle cx="1180" cy="800" r="5.6000000000000005" fill="#111"/><path d="M1070 850 C1090 920 1120 970 1150 1000 C1110 1030 1070 1030 1050 1010" fill="none" stroke="#222" stroke-width="10.8" stroke-linecap="round" stroke-linejoin="round"/><path d="M830 880 C850 950 900 990 960 990" fill="none" stroke="#555" stroke-width="9.0" stroke-linecap="round" stroke-linejoin="round"/></g></g>
<ellipse cx="940.2" cy="1858.4" rx="130" ry="165.6" fill="none" stroke="#1b1b1b" stroke-width="2.4"/>
<ellipse cx="1436.4" cy="1858.6" rx="130" ry="165.6" fill="#fff"/>
<g clip-path="url(#cp4)"><g transform="translate(1296 1683) scale(0.172414)"><path d="M0 1330 L100 1310 L400 1180 L570 1090 L610 1230 L620 1400 L590 2030 L0 2030 Z" fill="#7a7a7a"/><path d="M1090 1080 L1300 1220 L1510 1360 L1624 1380 L1624 2030 L1090 2030 L1040 1680 L1150 1560 L1150 1300 Z" fill="#7a7a7a"/><path d="M570 1090 L610 1230 L620 1400 L590 2030" fill="none" stroke="#222" stroke-width="10.8" stroke-linecap="round" stroke-linejoin="round"/><path d="M1090 1080 L1150 1300 L1150 1560 L1040 1680 L1090 2030" fill="none" stroke="#222" stroke-width="10.8" stroke-linecap="round" stroke-linejoin="round"/><path d="M260 1440 C330 1380 420 1330 500 1300 L440 1500 Z" fill="#6a6a6a" stroke="#333" stroke-width="9.0" stroke-linejoin="round"/><path d="M400 1180 L300 1440 L280 1700" fill="none" stroke="#333" stroke-width="9.0" stroke-linecap="round" stroke-linejoin="round"/><path d="M1040 1680 L1150 1620 L1330 1700" fill="none" stroke="#333" stroke-width="10.8" stroke-linecap="round" stroke-linejoin="round"/><path d="M1300 1220 L1420 1500 L1400 1700" fill="none" stroke="#333" stroke-width="9.0" stroke-linecap="round" stroke-linejoin="round"/><path d="M1150 1750 L1210 1740" fill="none" stroke="#333" stroke-width="12" stroke-linecap="round" stroke-linejoin="round"/><path d="M640 1400 L680 1540 L740 1500" fill="none" stroke="#222" stroke-width="9.0" stroke-linecap="round" stroke-linejoin="round"/><path d="M880 1450 L960 1610 L1060 1430 L1080 1250" fill="none" stroke="#222" stroke-width="9.0" stroke-linecap="round" stroke-linejoin="round"/><path d="M730 1450 L850 1425 L820 1560 L830 2030 L610 2030 L735 1560 Z" fill="#4c4c4c"/><path d="M730 1450 L850 1425 L820 1560 L735 1560 Z" fill="none" stroke="#222" stroke-width="9.0" stroke-linecap="round" stroke-linejoin="round"/><path d="M520 900 C470 870 400 800 370 720 C350 640 380 560 440 510 C480 450 540 400 600 360 L620 400 C570 460 530 540 520 620 C515 720 520 820 520 900 Z" fill="#4a4a4a"/><path d="M600 360 C650 300 730 270 820 265 C920 265 1000 290 1060 340 C1110 380 1150 430 1180 490 L1130 520 C1100 460 1060 410 1000 380 C920 330 830 320 740 335 C680 345 640 370 620 400 Z" fill="#4a4a4a"/><path d="M1180 490 C1220 560 1250 650 1245 740 C1240 810 1210 870 1160 900 C1150 820 1140 720 1130 640 C1120 590 1120 550 1130 520 Z" fill="#4a4a4a"/><path d="M375 600 c10 -25 40 -25 50 0" fill="none" stroke="#aaa" stroke-width="9.0" stroke-linecap="round" stroke-linejoin="round"/><path d="M395 700 c10 -25 40 -25 50 0" fill="none" stroke="#aaa" stroke-width="9.0" stroke-linecap="round" stroke-linejoin="round"/><path d="M425 800 c10 -25 40 -25 50 0" fill="none" stroke="#aaa" stroke-width="9.0" stroke-linecap="round" stroke-linejoin="round"/><path d="M1155 560 c10 -25 40 -25 50 0" fill="none" stroke="#aaa" stroke-width="9.0" stroke-linecap="round" stroke-linejoin="round"/><path d="M1175 680 c10 -25 40 -25 50 0" fill="none" stroke="#aaa" stroke-width="9.0" stroke-linecap="round" stroke-linejoin="round"/><path d="M1165 800 c10 -25 40 -25 50 0" fill="none" stroke="#aaa" stroke-width="9.0" stroke-linecap="round" stroke-linejoin="round"/><path d="M675 300 c10 -25 40 -25 50 0" fill="none" stroke="#aaa" stroke-width="9.0" stroke-linecap="round" stroke-linejoin="round"/><path d="M875 290 c10 -25 40 -25 50 0" fill="none" stroke="#aaa" stroke-width="9.0" stroke-linecap="round" stroke-linejoin="round"/><path d="M455 880 C470 940 490 1000 530 1010 L520 880 Z" fill="#fff" stroke="#222" stroke-width="9.0" stroke-linejoin="round"/><path d="M1150 880 C1160 940 1150 980 1120 990 L1130 880 Z" fill="#fff" stroke="#222" stroke-width="9.0" stroke-linejoin="round"/><path d="M515 880 C530 980 580 1080 640 1160 C700 1220 800 1240 900 1230 C1000 1200 1060 1120 1090 1080 C1110 1000 1130 900 1135 800" fill="none" stroke="#222" stroke-width="9.0" stroke-linecap="round" stroke-linejoin="round"/><path d="M600 420 C620 480 640 520 660 540" fill="none" stroke="#777" stroke-width="7.2" stroke-linecap="round" stroke-linejoin="round"/><path d="M760 470 L880 470 M740 520 L900 520" fill="none" stroke="#888" stroke-width="7.2" stroke-linecap="round" stroke-linejoin="round"/><path d="M580 660 C640 640 700 640 760 655" fill="none" stroke="#333" stroke-width="18.0" stroke-linecap="round" stroke-linejoin="round"/><path d="M870 650 C930 630 1000 640 1050 660" fill="none" stroke="#333" stroke-width="18.0" stroke-linecap="round" stroke-linejoin="round"/><path d="M623.0 719.75 C651.5 686.5 708.5 686.5 741.75 715" fill="none" stroke="#222" stroke-width="12.6" stroke-linecap="round" stroke-linejoin="round"/><path d="M632.5 729.25 C661.0 748.25 703.75 748.25 732.25 724.5" fill="none" stroke="#555" stroke-width="7.2" stroke-linecap="round" stroke-linejoin="round"/><circle cx="680" cy="715" r="16.15" fill="#555"/><circle cx="680" cy="715" r="6.6499999999999995" fill="#111"/><path d="M913.0 712.75 C941.5 679.5 998.5 679.5 1031.75 708" fill="none" stroke="#222" stroke-width="12.6" stroke-linecap="round" stroke-linejoin="round"/><path d="M922.5 722.25 C951.0 741.25 993.75 741.25 1022.25 717.5" fill="none" stroke="#555" stroke-width="7.2" stroke-linecap="round" stroke-linejoin="round"/><circle cx="970" cy="708" r="16.15" fill="#555"/><circle cx="970" cy="708" r="6.6499999999999995" fill="#111"/><path d="M605 770 C650 830 720 830 760 800" fill="none" stroke="#555" stroke-width="9.0" stroke-linecap="round" stroke-linejoin="round"/><path d="M900 790 C950 830 1010 830 1060 790" fill="none" stroke="#555" stroke-width="9.0" stroke-linecap="round" stroke-linejoin="round"/><path d="M570 850 L640 880 M580 880 L640 900" fill="none" stroke="#666" stroke-width="7.2" stroke-linecap="round" stroke-linejoin="round"/><path d="M1020 850 L1080 870 M1020 880 L1080 900" fill="none" stroke="#666" stroke-width="7.2" stroke-linecap="round" stroke-linejoin="round"/><path d="M800 760 C790 820 760 860 760 880 C790 910 860 910 905 880" fill="none" stroke="#222" stroke-width="10.8" stroke-linecap="round" stroke-linejoin="round"/><path d="M670 1040 C740 990 800 985 850 1000 C900 990 960 1020 1000 1040" fill="none" stroke="#333" stroke-width="14.4" stroke-linecap="round" stroke-linejoin="round"/><path d="M700 1100 C760 1080 880 1080 940 1100" fill="none" stroke="#555" stroke-width="9.0" stroke-linecap="round" stroke-linejoin="round"/><path d="M700 1150 C760 1200 880 1210 960 1160" fill="none" stroke="#777" stroke-width="7.2" stroke-linecap="round" stroke-linejoin="round"/><path d="M760 1280 L860 1280 M740 1310 L880 1310" fill="none" stroke="#888" stroke-width="7.2" stroke-linecap="round" stroke-linejoin="round"/></g></g>
<ellipse cx="1436.4" cy="1858.6" rx="130" ry="165.6" fill="none" stroke="#1b1b1b" stroke-width="2.4"/>
<circle cx="1067.8" cy="464.4" r="7.3" fill="#7c7c7c"/>
<circle cx="1088.5" cy="464.4" r="7.3" fill="#7c7c7c"/>
<circle cx="1067.8" cy="505.8" r="7.3" fill="#7c7c7c"/>
<circle cx="1067.8" cy="547.1" r="7.3" fill="#7c7c7c"/>
<circle cx="1088.5" cy="547.1" r="7.3" fill="#7c7c7c"/>
<circle cx="1067.8" cy="588.5" r="7.3" fill="#7c7c7c"/>
<circle cx="1067.8" cy="629.8" r="7.3" fill="#7c7c7c"/>
<circle cx="1067.8" cy="671.2" r="7.3" fill="#8dbb68"/>
<circle cx="1067.8" cy="712.6" r="7.3" fill="#8dbb68"/>
<circle cx="1067.8" cy="753.9" r="7.3" fill="#7c7c7c"/>
<circle cx="1067.8" cy="795.3" r="7.3" fill="#7c7c7c"/>
<circle cx="1088.5" cy="795.3" r="7.3" fill="#7c7c7c"/>
<circle cx="1109.1" cy="795.3" r="7.3" fill="#7c7c7c"/>
<circle cx="1067.8" cy="836.6" r="7.3" fill="#7c7c7c"/>
<circle cx="1088.5" cy="836.6" r="7.3" fill="#7c7c7c"/>
<circle cx="1067.8" cy="878.0" r="7.3" fill="#7c7c7c"/>
<circle cx="1067.8" cy="919.4" r="7.3" fill="#7c7c7c"/>
<circle cx="1088.5" cy="919.4" r="7.3" fill="#8dbb68"/>
<circle cx="1260.0" cy="464.4" r="7.3" fill="#7c7c7c"/>
<circle cx="1280.7" cy="464.4" r="7.3" fill="#8dbb68"/>
<circle cx="1301.3" cy="464.4" r="7.3" fill="#7c7c7c"/>
<circle cx="1260.0" cy="505.8" r="7.3" fill="#7c7c7c"/>
<circle cx="1280.7" cy="505.8" r="7.3" fill="#8dbb68"/>
<circle cx="1301.3" cy="505.8" r="7.3" fill="#7c7c7c"/>
<circle cx="1322.0" cy="505.8" r="7.3" fill="#7c7c7c"/>
<circle cx="1260.0" cy="547.1" r="7.3" fill="#7c7c7c"/>
<circle cx="1280.7" cy="547.1" r="7.3" fill="#8dbb68"/>
<circle cx="1301.3" cy="547.1" r="7.3" fill="#7c7c7c"/>
<circle cx="1260.0" cy="588.5" r="7.3" fill="#8dbb68"/>
<circle cx="1260.0" cy="629.8" r="7.3" fill="#8dbb68"/>
<circle cx="1260.0" cy="671.2" r="7.3" fill="#8dbb68"/>
<circle cx="1260.0" cy="712.6" r="7.3" fill="#7c7c7c"/>
<circle cx="1280.7" cy="712.6" r="7.3" fill="#8dbb68"/>
<circle cx="1260.0" cy="753.9" r="7.3" fill="#e4650d"/>
<circle cx="1260.0" cy="795.3" r="7.3" fill="#e4650d"/>
<circle cx="1260.0" cy="836.6" r="7.3" fill="#7c7c7c"/>
<circle cx="1260.0" cy="878.0" r="7.3" fill="#7c7c7c"/>
<circle cx="1260.0" cy="919.4" r="7.3" fill="#7c7c7c"/>
<circle cx="1456.4" cy="464.4" r="7.3" fill="#7c7c7c"/>
<circle cx="1456.4" cy="505.8" r="7.3" fill="#7c7c7c"/>
<circle cx="1477.1" cy="505.8" r="7.3" fill="#7c7c7c"/>
<circle cx="1456.4" cy="547.1" r="7.3" fill="#1f58d3"/>
<circle cx="1477.1" cy="547.1" r="7.3" fill="#e4650d"/>
<circle cx="1497.7" cy="547.1" r="7.3" fill="#7c7c7c"/>
<circle cx="1518.4" cy="547.1" r="7.3" fill="#7c7c7c"/>
<circle cx="1456.4" cy="588.5" r="7.3" fill="#1f58d3"/>
<circle cx="1477.1" cy="588.5" r="7.3" fill="#e4650d"/>
<circle cx="1497.7" cy="588.5" r="7.3" fill="#7c7c7c"/>
<circle cx="1518.4" cy="588.5" r="7.3" fill="#7c7c7c"/>
<circle cx="1456.4" cy="629.8" r="7.3" fill="#1f58d3"/>
<circle cx="1477.1" cy="629.8" r="7.3" fill="#e4650d"/>
<circle cx="1497.7" cy="629.8" r="7.3" fill="#7c7c7c"/>
<circle cx="1518.4" cy="629.8" r="7.3" fill="#7c7c7c"/>
<circle cx="1456.4" cy="671.2" r="7.3" fill="#1f58d3"/>
<circle cx="1477.1" cy="671.2" r="7.3" fill="#e4650d"/>
<circle cx="1497.7" cy="671.2" r="7.3" fill="#7c7c7c"/>
<circle cx="1518.4" cy="671.2" r="7.3" fill="#7c7c7c"/>
<circle cx="1456.4" cy="712.6" r="7.3" fill="#e4650d"/>
<circle cx="1456.4" cy="753.9" r="7.3" fill="#e4650d"/>
<circle cx="1456.4" cy="795.3" r="7.3" fill="#e4650d"/>
<circle cx="1456.4" cy="836.6" r="7.3" fill="#e4650d"/>
<circle cx="1456.4" cy="878.0" r="7.3" fill="#1f58d3"/>
<circle cx="1477.1" cy="878.0" r="7.3" fill="#e4650d"/>
<circle cx="1497.7" cy="878.0" r="7.3" fill="#7c7c7c"/>
<circle cx="1456.4" cy="919.4" r="7.3" fill="#1f58d3"/>
<circle cx="1477.1" cy="919.4" r="7.3" fill="#e4650d"/>
<circle cx="1653.0" cy="464.4" r="7.3" fill="#e4650d"/>
<circle cx="1673.7" cy="464.4" r="7.3" fill="#7c7c7c"/>
<circle cx="1653.0" cy="505.8" r="7.3" fill="#1f58d3"/>
<circle cx="1673.7" cy="505.8" r="7.3" fill="#7c7c7c"/>
<circle cx="1653.0" cy="547.1" r="7.3" fill="#1f58d3"/>
<circle cx="1653.0" cy="588.5" r="7.3" fill="#1f58d3"/>
<circle cx="1673.7" cy="588.5" r="7.3" fill="#7c7c7c"/>
<circle cx="1653.0" cy="629.8" r="7.3" fill="#1f58d3"/>
<circle cx="1673.7" cy="629.8" r="7.3" fill="#7c7c7c"/>
<circle cx="1694.3" cy="629.8" r="7.3" fill="#7c7c7c"/>
<circle cx="1653.0" cy="671.2" r="7.3" fill="#1f58d3"/>
<circle cx="1673.7" cy="671.2" r="7.3" fill="#7c7c7c"/>
<circle cx="1653.0" cy="712.6" r="7.3" fill="#1f58d3"/>
<circle cx="1673.7" cy="712.6" r="7.3" fill="#7c7c7c"/>
<circle cx="1694.3" cy="712.6" r="7.3" fill="#7c7c7c"/>
<circle cx="1715.0" cy="712.6" r="7.3" fill="#7c7c7c"/>
<circle cx="1653.0" cy="753.9" r="7.3" fill="#7c7c7c"/>
<circle cx="1673.7" cy="753.9" r="7.3" fill="#7c7c7c"/>
<circle cx="1694.3" cy="753.9" r="7.3" fill="#7c7c7c"/>
<circle cx="1653.0" cy="795.3" r="7.3" fill="#7c7c7c"/>
<circle cx="1653.0" cy="836.6" r="7.3" fill="#7c7c7c"/>
<circle cx="1673.7" cy="836.6" r="7.3" fill="#7c7c7c"/>
<circle cx="1694.3" cy="836.6" r="7.3" fill="#7c7c7c"/>
<circle cx="1653.0" cy="878.0" r="7.3" fill="#7c7c7c"/>
<circle cx="1673.7" cy="878.0" r="7.3" fill="#7c7c7c"/>
<circle cx="1694.3" cy="878.0" r="7.3" fill="#7c7c7c"/>
<circle cx="1653.0" cy="919.4" r="7.3" fill="#7c7c7c"/>
<circle cx="1673.7" cy="919.4" r="7.3" fill="#7c7c7c"/>
<circle cx="1653.0" cy="960.7" r="7.3" fill="#7c7c7c"/>
<circle cx="1653.0" cy="1002.1" r="7.3" fill="#7c7c7c"/>
<circle cx="93.1" cy="505.6" r="10.3" fill="#e4650d"/>
<circle cx="93.1" cy="568.2" r="10.3" fill="#1f58d3"/>
<circle cx="93.1" cy="629.7" r="10.3" fill="#8dbb68"/>
<rect x="85" y="535.8" width="823.7" height="2" fill="#cdcdcd"/>
<rect x="85" y="597.8" width="823.7" height="2" fill="#cdcdcd"/>
</svg>
<div class="t" style="left:85.2px;top:53.1px;font-size:84.5px;color:#1c1c1c;-webkit-text-stroke:2.4px #1c1c1c;transform:scaleX(1.0073)">Номинанты и лауреаты Нобелевской</div>
<div class="t" style="left:85.1px;top:135.1px;font-size:84.5px;color:#1c1c1c;-webkit-text-stroke:2.4px #1c1c1c">премии по литературе из России и СССР</div>
<div class="t" style="left:83.6px;top:282.6px;font-size:33px;color:#1c1c1c;transform:scaleX(0.9901)">С 1901 года номинировались 26 писателей, в том числе эмигрировавших.</div>
<div class="t" style="left:85.9px;top:364.9px;font-size:32px;color:#111;font-weight:700;letter-spacing:2px;transform:scaleX(0.9570)">ЛИДЕРЫ ПО КОЛИЧЕСТВУ НОМИНАЦИЙ</div>
<div class="t" style="left:979.6px;top:364.9px;font-size:32px;color:#111;font-weight:700;letter-spacing:2px;transform:scaleX(0.9474)">СКОЛЬКО ЧЕЛОВЕК НОМИНИРОВАЛИСЬ</div>
<div class="t" style="left:83.1px;top:449.4px;font-size:30px;color:#a9a9a9;transform:scaleX(0.9344)">автор</div>
<div class="t" style="left:536.6px;top:449.4px;font-size:30px;color:#a9a9a9;transform:scaleX(0.9682)">номинирован</div>
<div class="t" style="left:797.0px;top:449.4px;font-size:30px;color:#a9a9a9;transform:scaleX(0.9751)">получил</div>
<div class="t" style="left:124.6px;top:487.5px;font-size:32.5px;color:#1c1c1c;transform:scaleX(1.0177)">Марк Алданов (Ландау)</div>
<div class="t" style="left:578.3px;top:487.5px;font-size:32.5px;color:#1c1c1c;transform:scaleX(0.9939)">13 раз</div>
<div class="t" style="left:858.0px;top:487.5px;font-size:32.5px;color:#1c1c1c">нет</div>
<div class="t" style="left:124.6px;top:550.4px;font-size:32.5px;color:#1c1c1c">Михаил Шолохов</div>
<div class="t" style="left:578.3px;top:550.4px;font-size:32.5px;color:#1c1c1c;transform:scaleX(0.9939)">12 раз</div>
<div class="t" style="left:872.7px;top:550.4px;font-size:32.5px;color:#1c1c1c;transform:scaleX(0.9298)">да</div>
<div class="t" style="left:126.6px;top:612.1px;font-size:32.5px;color:#1c1c1c;transform:scaleX(1.0365)">Дмитрий Мережковский</div>
<div class="t" style="left:578.3px;top:612.1px;font-size:32.5px;color:#1c1c1c;transform:scaleX(0.9939)">10 раз</div>
<div class="t" style="left:858.0px;top:612.1px;font-size:32.5px;color:#1c1c1c">нет</div>
<div class="t" style="left:84.5px;top:676.2px;font-size:55px;color:#1a1a1a;letter-spacing:3px;-webkit-text-stroke:1.8px #1a1a1a;transform:scaleX(0.9375)">26 человек</div>
<div class="t" style="left:83.5px;top:735.9px;font-size:32.5px;color:#1c1c1c;transform:scaleX(1.0143)">в списке номинантов* и лауреатов</div>
<div class="t" style="left:83.8px;top:821.4px;font-size:29px;color:#a9a9a9;transform:scaleX(1.0074)">* Учтены номинанты из опубликованного списка</div>
<div class="t" style="left:83.8px;top:862.6px;font-size:29px;color:#a9a9a9;transform:scaleX(0.9966)">за 1901–1971 годы и более поздние лауреаты. Нобелевский</div>
<div class="t" style="left:82.8px;top:904.1px;font-size:29px;color:#a9a9a9;transform:scaleX(0.9869)">комитет не разглашает имена претендентов в течение 50 лет.</div>
<div class="t" style="left:979.0px;top:448.3px;font-size:31.5px;color:#808080;transform:scaleX(1.0337)">1902</div>
<div class="t" style="left:979.1px;top:489.7px;font-size:31.5px;color:#808080;transform:scaleX(1.0184)">1903</div>
<div class="t" style="left:979.1px;top:531.0px;font-size:31.5px;color:#808080;transform:scaleX(1.0184)">1904</div>
<div class="t" style="left:979.1px;top:572.4px;font-size:31.5px;color:#808080;transform:scaleX(1.0184)">1905</div>
<div class="t" style="left:979.1px;top:613.8px;font-size:31.5px;color:#808080;transform:scaleX(1.0184)">1906</div>
<div class="t" style="left:979.1px;top:655.1px;font-size:31.5px;color:#808080;transform:scaleX(1.0184)">1914</div>
<div class="t" style="left:979.1px;top:696.5px;font-size:31.5px;color:#808080;transform:scaleX(1.0184)">1915</div>
<div class="t" style="left:979.1px;top:737.8px;font-size:31.5px;color:#808080;transform:scaleX(1.0184)">1918</div>
<div class="t" style="left:979.1px;top:779.2px;font-size:31.5px;color:#808080;transform:scaleX(1.0184)">1923</div>
<div class="t" style="left:979.1px;top:820.6px;font-size:31.5px;color:#808080;transform:scaleX(1.0184)">1926</div>
<div class="t" style="left:979.1px;top:861.9px;font-size:31.5px;color:#808080;transform:scaleX(1.0184)">1928</div>
<div class="t" style="left:979.1px;top:903.3px;font-size:31.5px;color:#808080;transform:scaleX(1.0184)">1930</div>
<div class="t" style="left:1171.2px;top:448.3px;font-size:31.5px;color:#808080;transform:scaleX(1.0337)">1931</div>
<div class="t" style="left:1171.2px;top:489.7px;font-size:31.5px;color:#808080;transform:scaleX(1.0337)">1932</div>
<div class="t" style="left:1171.3px;top:531.0px;font-size:31.5px;color:#808080;transform:scaleX(1.0184)">1933</div>
<div class="t" style="left:1171.3px;top:572.4px;font-size:31.5px;color:#808080;transform:scaleX(1.0184)">1934</div>
<div class="t" style="left:1171.3px;top:613.8px;font-size:31.5px;color:#808080;transform:scaleX(1.0184)">1935</div>
<div class="t" style="left:1171.3px;top:655.1px;font-size:31.5px;color:#808080;transform:scaleX(1.0184)">1936</div>
<div class="t" style="left:1171.2px;top:696.5px;font-size:31.5px;color:#808080;transform:scaleX(1.0337)">1937</div>
<div class="t" style="left:1171.3px;top:737.8px;font-size:31.5px;color:#808080;transform:scaleX(1.0184)">1938</div>
<div class="t" style="left:1171.3px;top:779.2px;font-size:31.5px;color:#808080;transform:scaleX(1.0184)">1939</div>
<div class="t" style="left:1171.2px;top:820.6px;font-size:31.5px;color:#808080;transform:scaleX(1.0337)">1942</div>
<div class="t" style="left:1171.3px;top:861.9px;font-size:31.5px;color:#808080;transform:scaleX(1.0184)">1943</div>
<div class="t" style="left:1171.3px;top:903.3px;font-size:31.5px;color:#808080;transform:scaleX(1.0184)">1944</div>
<div class="t" style="left:1367.7px;top:448.3px;font-size:31.5px;color:#808080;transform:scaleX(1.0184)">1945</div>
<div class="t" style="left:1367.7px;top:489.7px;font-size:31.5px;color:#808080;transform:scaleX(1.0184)">1946</div>
<div class="t" style="left:1367.6px;top:531.0px;font-size:31.5px;color:#808080;transform:scaleX(1.0337)">1947</div>
<div class="t" style="left:1367.7px;top:572.4px;font-size:31.5px;color:#808080;transform:scaleX(1.0184)">1948</div>
<div class="t" style="left:1367.7px;top:613.8px;font-size:31.5px;color:#808080;transform:scaleX(1.0184)">1949</div>
<div class="t" style="left:1367.7px;top:655.1px;font-size:31.5px;color:#808080;transform:scaleX(1.0184)">1950</div>
<div class="t" style="left:1367.6px;top:696.5px;font-size:31.5px;color:#808080;transform:scaleX(1.0337)">1951</div>
<div class="t" style="left:1367.6px;top:737.8px;font-size:31.5px;color:#808080;transform:scaleX(1.0337)">1952</div>
<div class="t" style="left:1367.7px;top:779.2px;font-size:31.5px;color:#808080;transform:scaleX(1.0184)">1953</div>
<div class="t" style="left:1367.7px;top:820.6px;font-size:31.5px;color:#808080;transform:scaleX(1.0184)">1954</div>
<div class="t" style="left:1367.7px;top:861.9px;font-size:31.5px;color:#808080;transform:scaleX(1.0184)">1955</div>
<div class="t" style="left:1367.7px;top:903.3px;font-size:31.5px;color:#808080;transform:scaleX(1.0184)">1956</div>
<div class="t" style="left:1564.2px;top:448.3px;font-size:31.5px;color:#808080;transform:scaleX(1.0337)">1957</div>
<div class="t" style="left:1564.3px;top:489.7px;font-size:31.5px;color:#808080;transform:scaleX(1.0184)">1958</div>
<div class="t" style="left:1564.2px;top:531.0px;font-size:31.5px;color:#808080;transform:scaleX(1.0337)">1961</div>
<div class="t" style="left:1564.2px;top:572.4px;font-size:31.5px;color:#808080;transform:scaleX(1.0337)">1962</div>
<div class="t" style="left:1564.3px;top:613.8px;font-size:31.5px;color:#808080;transform:scaleX(1.0184)">1963</div>
<div class="t" style="left:1564.3px;top:655.1px;font-size:31.5px;color:#808080;transform:scaleX(1.0184)">1964</div>
<div class="t" style="left:1564.3px;top:696.5px;font-size:31.5px;color:#808080;transform:scaleX(1.0184)">1965</div>
<div class="t" style="left:1564.3px;top:737.8px;font-size:31.5px;color:#808080;transform:scaleX(1.0184)">1966</div>
<div class="t" style="left:1564.2px;top:779.2px;font-size:31.5px;color:#808080;transform:scaleX(1.0337)">1967</div>
<div class="t" style="left:1564.3px;top:820.6px;font-size:31.5px;color:#808080;transform:scaleX(1.0184)">1968</div>
<div class="t" style="left:1564.3px;top:861.9px;font-size:31.5px;color:#808080;transform:scaleX(1.0184)">1969</div>
<div class="t" style="left:1564.3px;top:903.3px;font-size:31.5px;color:#808080;transform:scaleX(1.0184)">1970</div>
<div class="t" style="left:1564.2px;top:944.6px;font-size:31.5px;color:#808080;transform:scaleX(1.0337)">1971</div>
<div class="t" style="left:1564.2px;top:986.0px;font-size:31.5px;color:#808080;transform:scaleX(1.0337)">1987</div>
<div class="t" style="left:1628.1px;top:1026.6px;font-size:30px;color:#9a9a9a;transform:scaleX(0.9513)">прочие</div>
<div class="t" style="left:1573.5px;top:1068.6px;font-size:30px;color:#9a9a9a;transform:scaleX(0.9547)">номинанты</div>
<div class="t" style="left:83.5px;top:1066.9px;font-size:32px;color:#111;font-weight:700;letter-spacing:2px;transform:scaleX(0.9448)">ПЯТЬ ЛАУРЕАТОВ ПРЕМИИ ИЗ РОССИИ И СССР</div>
<div class="t" style="left:83.6px;top:1140.9px;font-size:31px;color:#858585;font-weight:700;transform:scaleX(1.0189)">1901</div>
<div class="t" style="left:164.9px;top:1140.9px;font-size:31px;color:#858585;transform:scaleX(1.0535)">первое вручение премии</div>
<div class="t" style="left:959.7px;top:1140.4px;font-size:31px;color:#858585;transform:scaleX(1.0514)">1915</div>
<div class="t" style="left:373.4px;top:1273.1px;font-size:32px;color:#111;font-weight:700;letter-spacing:1.5px;transform:scaleX(0.9619)">БОРИС ПАСТЕРНАК</div>
<div class="t" style="left:374.4px;top:1313.9px;font-size:32.6px;color:#1c1c1c">"За значительные достижения в совре-</div>
<div class="t" style="left:373.4px;top:1355.0px;font-size:32.6px;color:#1c1c1c;transform:scaleX(1.0081)">менной лирической поэзии, а также за</div>
<div class="t" style="left:373.3px;top:1396.1px;font-size:32.6px;color:#1c1c1c;transform:scaleX(1.0260)">продолжение традиций великого рус-</div>
<div class="t" style="left:374.4px;top:1437.2px;font-size:32.6px;color:#1c1c1c;transform:scaleX(1.0266)">ского эпического романа"</div>
<div class="t" style="left:373.4px;top:1478.3px;font-size:32.6px;color:#a9a9a9">Под давлением властей отказался от</div>
<div class="t" style="left:373.4px;top:1519.4px;font-size:32.6px;color:#a9a9a9;transform:scaleX(1.0110)">премии. В 1989 году медаль и диплом</div>
<div class="t" style="left:373.4px;top:1560.5px;font-size:32.6px;color:#a9a9a9;transform:scaleX(1.0045)">получил сын писателя Евгений.</div>
<div class="t" style="left:1431.3px;top:1376.7px;font-size:32.6px;color:#858585;transform:scaleX(1.0146)">В эмиграции</div>
<div class="t" style="left:1136.3px;top:1438.6px;font-size:32px;color:#111;font-weight:700;letter-spacing:1.5px;transform:scaleX(0.9934)">ИВАН БУНИН</div>
<div class="t" style="left:1139.2px;top:1479.5px;font-size:32.6px;color:#1c1c1c;transform:scaleX(1.0107)">"За строгое мастерство, с которым</div>
<div class="t" style="left:1139.2px;top:1520.5px;font-size:32.6px;color:#1c1c1c;transform:scaleX(1.0164)">он развивает традиции русской</div>
<div class="t" style="left:1138.1px;top:1561.5px;font-size:32.6px;color:#1c1c1c;transform:scaleX(1.0287)">классической прозы"</div>
<div class="t" style="left:1611.0px;top:1715.8px;font-size:31px;color:#1a1a1a;font-weight:700;transform:scaleX(1.0336)">1933</div>
<div class="t" style="left:1156.6px;top:1705.8px;font-size:31px;color:#858585;transform:scaleX(1.0536)">1940</div>
<div class="t" style="left:138.7px;top:1910.4px;font-size:31px;color:#1a1a1a;font-weight:700;transform:scaleX(1.0189)">1958</div>
<div class="t" style="left:103.2px;top:2038.4px;font-size:31px;color:#858585;transform:scaleX(1.0521)">1960</div>
<div class="t" style="left:258.5px;top:2056.9px;font-size:32px;color:#111;font-weight:700;letter-spacing:1.5px;transform:scaleX(0.9719)">МИХАИЛ ШОЛОХОВ</div>
<div class="t" style="left:259.4px;top:2098.6px;font-size:32.6px;color:#1c1c1c;transform:scaleX(1.0085)">"За художественную силу</div>
<div class="t" style="left:258.4px;top:2139.9px;font-size:32.6px;color:#1c1c1c;transform:scaleX(1.0081)">и цельность эпоса о донском</div>
<div class="t" style="left:258.4px;top:2181.3px;font-size:32.6px;color:#1c1c1c">казачестве в переломное</div>
<div class="t" style="left:260.4px;top:2222.6px;font-size:32.6px;color:#1c1c1c;transform:scaleX(1.0079)">для России время"</div>
<div class="t" style="left:765.9px;top:2056.9px;font-size:32px;color:#111;font-weight:700;letter-spacing:1.5px;transform:scaleX(0.9772)">АЛЕКСАНДР СОЛЖЕНИЦЫН</div>
<div class="t" style="left:761.4px;top:2097.9px;font-size:32.6px;color:#1c1c1c;transform:scaleX(1.0154)">"За нравственную силу,</div>
<div class="t" style="left:760.4px;top:2139.3px;font-size:32.6px;color:#1c1c1c;transform:scaleX(1.0107)">почерпнутую в традиции</div>
<div class="t" style="left:760.4px;top:2180.7px;font-size:32.6px;color:#1c1c1c;transform:scaleX(1.0185)">великой русской литературы"</div>
<div class="t" style="left:1301.8px;top:2057.9px;font-size:32px;color:#111;font-weight:700;letter-spacing:1.5px;transform:scaleX(0.9784)">ИОСИФ БРОДСКИЙ</div>
<div class="t" style="left:1302.1px;top:2099.0px;font-size:32.6px;color:#1c1c1c;transform:scaleX(0.9853)">"За всеобъемлющее творче-</div>
<div class="t" style="left:1302.1px;top:2139.8px;font-size:32.6px;color:#1c1c1c;transform:scaleX(1.0055)">ство, пропитанное ясностью</div>
<div class="t" style="left:1301.1px;top:2180.6px;font-size:32.6px;color:#1c1c1c;transform:scaleX(0.9887)">мысли и страстностью</div>
<div class="t" style="left:1301.0px;top:2221.4px;font-size:32.6px;color:#1c1c1c;transform:scaleX(1.0307)">поэзии"</div>
<div class="t" style="left:223.7px;top:2328.5px;font-size:31px;color:#1a1a1a;font-weight:700;transform:scaleX(1.0381)">1965</div>
<div class="t" style="left:538.3px;top:2347.8px;font-size:31px;color:#1a1a1a;font-weight:700;transform:scaleX(1.0401)">1970</div>
<div class="t" style="left:1177.6px;top:2346.6px;font-size:31px;color:#858585;transform:scaleX(1.0326)">1980</div>
<div class="t" style="left:1632.2px;top:2347.8px;font-size:31px;color:#1a1a1a;font-weight:700;transform:scaleX(1.0401)">1987</div>
<div class="t" style="left:83.9px;top:2450.6px;font-size:31px;color:#1c1c1c;transform:scaleX(1.0563)">© ТАСС, 2023. Источники: "ТАСС.Досье", сайт Нобелевской премии (nobelprize.org).</div>
</body></html>
